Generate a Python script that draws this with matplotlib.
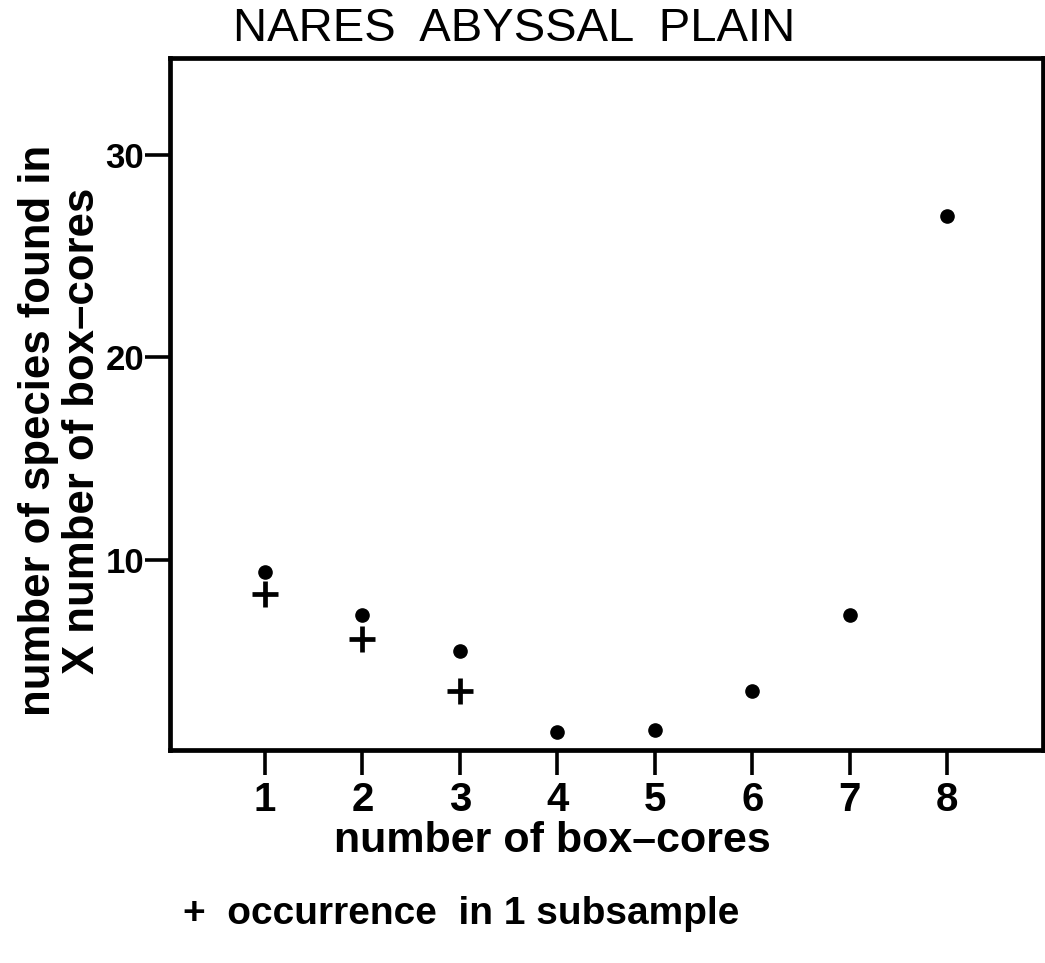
import numpy as np
import matplotlib.pyplot as plt

plt.rcParams['font.family'] = ['Liberation Sans', 'DejaVu Sans']

# species found in X box-cores (dots) and occurrence in 1 subsample (crosses)
n_cores = [1, 2, 3, 4, 5, 6, 7, 8]
n_species = [9.4, 7.3, 5.5, 1.5, 1.6, 3.5, 7.3, 27.0]
n_cores_sub = [1, 2, 3]
n_species_sub = [8.3, 6.1, 3.5]

fig = plt.figure(figsize=(10.45, 9.63), dpi=100)
ax = fig.add_axes([0.163, 0.221, 0.835, 0.719])

ax.plot(n_cores, n_species, 'o', color='black', markersize=9.5)
ax.plot(n_cores_sub, n_species_sub, '+', color='black', markersize=19, markeredgewidth=3.4)

ax.set_xlim(0.03, 8.98)
ax.set_ylim(0.6, 34.8)
ax.set_xticks(n_cores)
ax.set_yticks([10, 20, 30])

for s in ax.spines.values():
    s.set_linewidth(3.4)
ax.tick_params(axis='both', direction='out', width=2.6, length=18)
ax.tick_params(axis='x', labelsize=29, pad=4)
ax.tick_params(axis='y', labelsize=25, pad=1)
for lab in ax.get_xticklabels() + ax.get_yticklabels():
    lab.set_fontweight('bold')

ax.set_xlabel('number of box\u2013cores', fontsize=31, fontweight='bold')
ax.xaxis.set_label_coords(0.4375, -0.102)

# two-line y label, placed by hand so it sits a little below the axes centre
fig.text(0.058, 0.553, 'number of species found in\nX number of box\u2013cores', fontsize=31.5,
         fontweight='bold', rotation=90, ha='center', va='center', linespacing=1.08)

fig.text(0.492, 0.970, 'NARES  ABYSSAL  PLAIN', fontsize=34, ha='center', va='center')
fig.text(0.175, 0.051, '+  occurrence  in 1 subsample', fontsize=28, fontweight='bold',
         ha='left', va='center')

fig.savefig('out.png', dpi=100)
